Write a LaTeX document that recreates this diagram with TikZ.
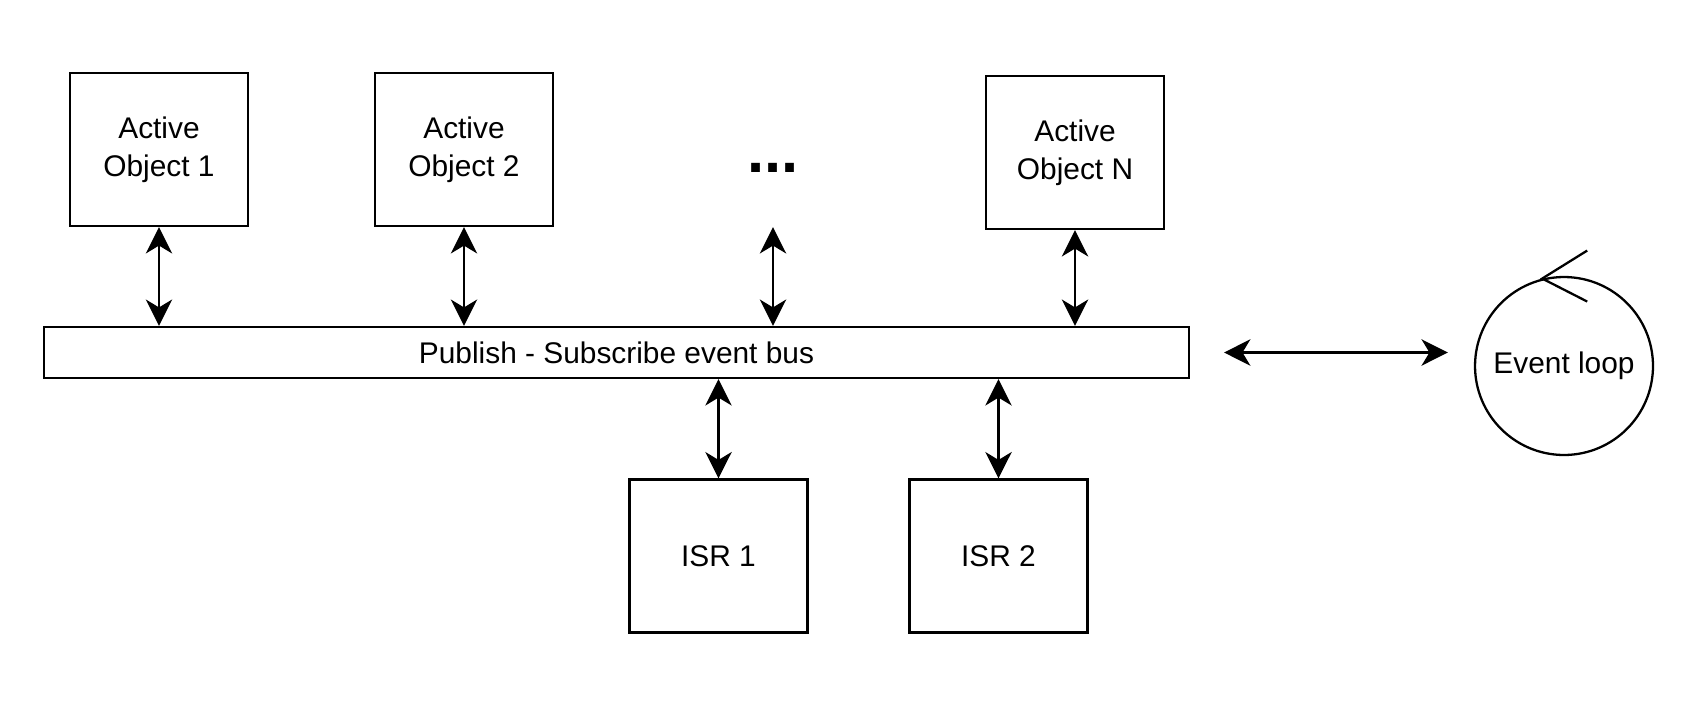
\documentclass[tikz,border=0pt]{standalone}
\usepackage{fontspec}
\setmainfont{Liberation Sans}
\usetikzlibrary{arrows.meta}
\tikzset{
  box/.style={draw,line width=1.3pt,minimum width=3.56cm,minimum height=3.06cm,inner sep=0pt,align=center,font=\fontsize{17}{21.6}\selectfont},
  biarrow/.style={<->,line width=1.3pt}
}
\begin{document}
\begin{tikzpicture}[>={Stealth[length=15pt,width=15pt,inset=4.5pt]},x=0.02cm,y=-0.02cm]
	\useasboundingbox (0,0) rectangle (1700,700);
	\node[box] (ao1) at (159,149.5) {Active\\Object 1};
	\node[box] (ao2) at (464,149.5) {Active\\Object 2};
	\node[box] (aon) at (1075,152.5) {Active\\Object N};
	\node[font=\bfseries\fontsize{35}{35}\selectfont,inner sep=0pt] (dots) at (773,168) {...};
	\node[draw,line width=1.3pt,minimum width=22.9cm,minimum height=1.02cm,inner sep=0pt,font=\fontsize{17}{21.6}\selectfont] (bus) at (616.5,352.5) {Publish - Subscribe event bus};
	\node[box] (isr1) at (718.5,556) {ISR 1};
	\node[box] (isr2) at (998.5,556) {ISR 2};
	\node[draw,circle,line width=1.3pt,minimum size=3.56cm,inner sep=0pt,font=\fontsize{17}{21.6}\selectfont] (loop) at (1564,366) {Event loop};
	\draw[biarrow] (ao1.south) -- (ao1.south |- bus.north);
	\draw[biarrow] (ao2.south) -- (ao2.south |- bus.north);
	\draw[biarrow] (dots |- ao1.south) -- (dots |- bus.north);
	\draw[biarrow] (aon.south) -- (aon.south |- bus.north);
	\draw[biarrow] (isr1.north) -- (isr1.north |- bus.south);
	\draw[biarrow] (isr2.north) -- (isr2.north |- bus.south);
	\draw[biarrow,shorten <=0.68cm,shorten >=0.52cm] (bus.east) -- (bus.east -| loop.west);
	\draw[line width=1.3pt] (loop.104) ++(45,-28) -- (loop.104) -- ++(45,23);
\end{tikzpicture}
\end{document}
